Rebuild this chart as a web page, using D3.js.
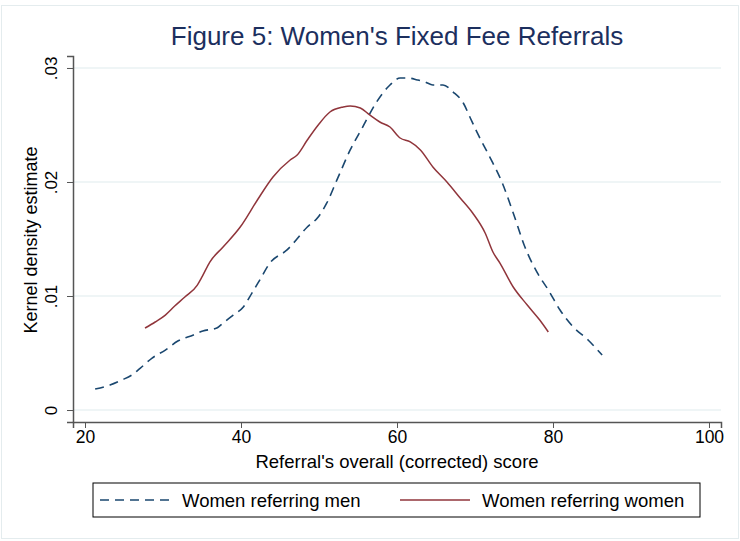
<!DOCTYPE html>
<html>
<head>
<meta charset="utf-8">
<script src="https://cdn.jsdelivr.net/npm/d3@7"></script>
<style>
  body { margin: 0; background: #fff; }
  text { font-family: 'Liberation Sans', Arial, sans-serif; }
</style>
</head>
<body>
<div id="chart"></div>
<script>
// Data: kernel density estimates

const menScores = [21.3, 23.2, 24.7, 26.0, 27.1, 28.6, 30.3, 31.9, 33.9, 35.1, 36.9, 37.7, 39.0, 40.3, 41.4, 42.4, 43.7, 45.9, 48.5, 49.9, 51.0, 52.3, 54.0, 55.6, 57.3, 59.1, 60.4, 61.4, 62.6, 63.6, 64.6, 65.9, 67.2, 68.5, 69.4, 70.3, 71.9, 73.5, 74.9, 76.4, 78.0, 79.4, 80.9, 82.6, 84.5, 86.3]
const menDensity = [0.00184, 0.00219, 0.00263, 0.00307, 0.00368, 0.00456, 0.00526, 0.00605, 0.00658, 0.00693, 0.00719, 0.00763, 0.00833, 0.00904, 0.01026, 0.0114, 0.01289, 0.01404, 0.01605, 0.01693, 0.01816, 0.02018, 0.02281, 0.02482, 0.02693, 0.02851, 0.02912, 0.02912, 0.02895, 0.02877, 0.02851, 0.02851, 0.02789, 0.02693, 0.02561, 0.0243, 0.02219, 0.01991, 0.01728, 0.0143, 0.01202, 0.01053, 0.00877, 0.00728, 0.00614, 0.00482]

const womenScores = [27.7, 29.0, 30.3, 31.5, 32.8, 34.4, 35.0, 36.0, 37.7, 39.9, 42.1, 44.1, 46.3, 47.2, 48.5, 49.9, 51.4, 53.1, 54.0, 55.3, 56.5, 57.8, 59.1, 60.4, 61.7, 63.0, 64.6, 66.4, 68.1, 69.7, 71.3, 72.3, 73.2, 74.9, 76.7, 78.3, 79.4]
const womenDensity = [0.00719, 0.00772, 0.00833, 0.00912, 0.00991, 0.01096, 0.01167, 0.01298, 0.0143, 0.01605, 0.01842, 0.02044, 0.02193, 0.02237, 0.02368, 0.025, 0.02614, 0.02658, 0.02667, 0.02649, 0.02588, 0.02526, 0.02482, 0.02386, 0.02351, 0.02281, 0.02132, 0.02, 0.0186, 0.01728, 0.01553, 0.01386, 0.01289, 0.01079, 0.00921, 0.00789, 0.00684]

const xTicks = [20, 40, 60, 80, 100]
const yTicks = [0, 0.01, 0.02, 0.03]
const seriesNames = ['Women referring men', 'Women referring women']

const width = 740
const height = 541

const blue = '#1a476f'
const red = '#90353b'
const gridColor = '#eaf2f3'

const svg = d3
  .select('#chart')
  .append('svg')
  .attr('width', width)
  .attr('height', height)

// faint outer frame of the graph region
svg
  .append('rect')
  .attr('x', 1.5)
  .attr('y', 5.5)
  .attr('width', width - 3)
  .attr('height', height - 8)
  .attr('fill', 'none')
  .attr('stroke', '#e4ecee')

// Scales (domain padded a bit past the ticks, like Stata)
const xPositionScale = d3.scaleLinear().domain([18.46, 101.54]).range([73, 721])
const yPositionScale = d3.scaleLinear().domain([-0.00105, 0.03105]).range([422, 56])

// gridlines
svg
  .selectAll('.grid')
  .data(yTicks)
  .enter()
  .append('line')
  .attr('class', 'grid')
  .attr('x1', 73)
  .attr('x2', 721)
  .attr('y1', d => yPositionScale(d))
  .attr('y2', d => yPositionScale(d))
  .attr('stroke', gridColor)
  .attr('stroke-width', 1.5)

// axes
const xAxis = d3
  .axisBottom(xPositionScale)
  .tickValues(xTicks)
  .tickSizeOuter(0)
  .tickSize(6)
  .tickPadding(3)

const yAxis = d3
  .axisLeft(yPositionScale)
  .tickValues(yTicks)
  .tickSizeOuter(0)
  .tickSize(6)
  .tickFormat(d => (d === 0 ? '0' : d3.format('.2f')(d).replace(/^0/, '')))

svg
  .append('g')
  .attr('class', 'x-axis')
  .attr('transform', 'translate(0,422)')
  .call(xAxis)

svg
  .append('g')
  .attr('class', 'y-axis')
  .attr('transform', 'translate(73,0)')
  .call(yAxis)

svg.selectAll('.domain').attr('stroke', '#555').attr('stroke-width', 1.5)
svg.selectAll('.tick line').attr('stroke', '#555').attr('stroke-width', 1)

svg
  .select('.x-axis')
  .selectAll('.tick text')
  .attr('font-size', 17.5)
  .attr('fill', '#000')
  .attr('font-family', 'Liberation Sans, Arial, sans-serif')

svg
  .select('.y-axis')
  .selectAll('.tick text')
  .attr('font-size', 17)
  .attr('fill', '#000')
  .attr('font-family', 'Liberation Sans, Arial, sans-serif')
  .attr('text-anchor', 'middle')
  .attr('dy', 0)
  .attr('x', 0)
  .attr('transform', 'translate(-16,0) rotate(-90)')

// lines
const line = d3
  .line()
  .x(d => xPositionScale(d[0]))
  .y(d => yPositionScale(d[1]))
  .curve(d3.curveMonotoneX)

const menPoints = menScores.map((s, i) => [s, menDensity[i]])
const womenPoints = womenScores.map((s, i) => [s, womenDensity[i]])

svg
  .append('path')
  .datum(menPoints)
  .attr('d', line)
  .attr('fill', 'none')
  .attr('stroke', blue)
  .attr('stroke-width', 1.6)
  .attr('stroke-dasharray', '9,6')

svg
  .append('path')
  .datum(womenPoints)
  .attr('d', line)
  .attr('fill', 'none')
  .attr('stroke', red)
  .attr('stroke-width', 1.5)

// titles
svg
  .append('text')
  .text("Figure 5: Women's Fixed Fee Referrals")
  .attr('x', 397)
  .attr('y', 45)
  .attr('text-anchor', 'middle')
  .attr('font-size', 26)
  .attr('fill', '#1c2f5e')

svg
  .append('text')
  .text("Referral's overall (corrected) score")
  .attr('x', 397)
  .attr('y', 468)
  .attr('text-anchor', 'middle')
  .attr('font-size', 18.5)
  .attr('fill', '#000')

svg
  .append('text')
  .text('Kernel density estimate')
  .attr('transform', 'translate(37,240) rotate(-90)')
  .attr('text-anchor', 'middle')
  .attr('font-size', 18)
  .attr('fill', '#000')

// legend
const legend = svg.append('g').attr('transform', 'translate(93,483)')

legend
  .append('rect')
  .attr('width', 607)
  .attr('height', 34)
  .attr('fill', '#fff')
  .attr('stroke', '#000')
  .attr('stroke-width', 1)

const legendItems = [
  { name: seriesNames[0], color: blue, dash: '9,6', x: 7 },
  { name: seriesNames[1], color: red, dash: null, x: 307 }
]

legendItems.forEach(item => {
  legend
    .append('line')
    .attr('x1', item.x)
    .attr('x2', item.x + 70)
    .attr('y1', 17)
    .attr('y2', 17)
    .attr('stroke', item.color)
    .attr('stroke-width', 1.6)
    .attr('stroke-dasharray', item.dash)

  legend
    .append('text')
    .text(item.name)
    .attr('x', item.x + 82)
    .attr('y', 23.5)
    .attr('font-size', 18.5)
    .attr('fill', '#000')
})
</script>
</body>
</html>
